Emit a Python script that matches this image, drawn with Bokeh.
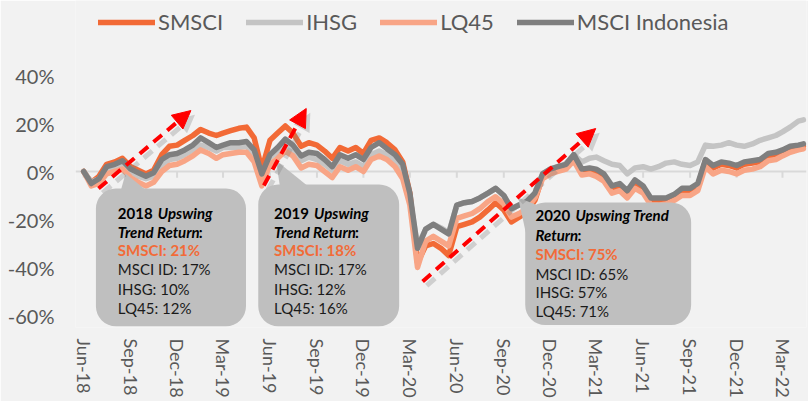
import datetime as dt
import pandas as pd
from bokeh.plotting import figure
from bokeh.models import (Range1d, FixedTicker, DatetimeTickFormatter, PrintfTickFormatter,
                          Legend, LegendItem, Span, BoxAnnotation, Label, Arrow, NormalHead)
from bokeh.embed import file_html
from bokeh.resources import INLINE

# ---------------- data (cumulative return, %) ----------------
dates = []
for yr in range(2018, 2023):
    for mo in range(1, 13):
        for d in (1, 16):
            t = dt.datetime(yr, mo, d)
            if dt.datetime(2018, 6, 1) <= t <= dt.datetime(2022, 4, 1):
                dates.append(t)
dates.append(dt.datetime(2022, 4, 11))

smsci = [0, -4.5, -2, 3, 4, 5.5, 2, 0.5, -1, 0.5, 7, 10.5, 11, 13, 15, 17.5, 16, 15, 16, 17,
         18, 18.5, 14, 1, 13, 16, 19, 16, 10.5, 12, 11, 8.5, 5.5, 10, 8.5, 10, 7.5, 13, 14, 12,
         9, 4, -9, -38, -31, -30, -32, -35, -23, -22, -21, -19, -16, -13, -16, -21, -19, -17, -12, -2,
         0, 1, 2, 6, 0, 0.5, 0, -2, -7.5, -6.5, -10, -5, -7.5, -12.5, -12.5, -12, -10.5, -8, -8, -6,
         4.5, 1.5, 3, 2.5, 1.5, 3, 3.5, 4, 6.5, 7, 8, 9.5, 10, 10.5]
ihsg = [0, -4.5, -3, 1, 2, 3, 0, -2, -3, -2, 2.5, 5, 5.5, 7, 9, 11, 10, 8.5, 10, 10,
        10, 10.5, 7, -2.5, 6, 8, 11, 9, 4.5, 6, 5, 3, 0.5, 4.5, 3, 4, 2, 7, 8.5, 7,
        4, 0, -11, -31, -24, -22, -23.5, -25.5, -14, -13, -12.5, -11, -9, -7, -10, -15.5, -14, -12.5, -9, -1,
        1, 2, 3, 7, 4, 5.5, 6, 4.5, 3, 2.5, -1, 1.5, 2, 1, 2, 3.5, 4, 3, 2.5, 4,
        11, 10.5, 11, 12, 11, 10.5, 11.5, 13, 14, 15, 16.5, 18.5, 21, 21.5]
lq45 = [0, -6, -5, -1, 0, 1, -2.5, -4.5, -6, -4.5, 0, 2.5, 3, 4.5, 6.5, 9, 7.5, 5.5, 7, 7.5,
        8, 8, 4, -6, 3, 5.5, 8.5, 6.5, 1.5, 3, 2.5, 0, -2.5, 2, 0.5, 2, 0, 5, 6.5, 5,
        2, -3, -14, -40, -29, -27, -29, -31, -19.5, -18.5, -17.5, -15.5, -12.5, -10.5, -13.5, -19, -17.5, -15.5, -11, -3,
        -1, 0, 1, 4.5, -1.5, -1, -2, -4, -9, -8, -11, -7, -9, -14, -14, -13.5, -12, -10, -10, -8,
        2, -1, 0.5, 0, -1, 0.5, 1, 2, 4.5, 5, 6.5, 8, 9, 9.5]
msci_id = [0, -5, -3, 2, 3, 4.5, 1, -0.5, -2, -0.5, 5, 7, 7.5, 9, 11, 14, 12, 10, 11, 12,
           12, 12.5, 9, -1, 7, 10, 13.5, 11, 6.5, 8, 7.5, 5, 2, 7, 5.5, 7, 5, 10, 12, 9.5,
           7, 3, -9, -32, -24, -22, -24, -26, -14, -13, -12.5, -11, -9, -7, -10, -15.5, -14, -12.5, -9, -1,
           1, 2, 3, 7, 1, 1.5, 1, -1, -6, -5, -8, -3.5, -6, -11, -11, -11, -9.5, -7, -7, -5,
           5, 2.5, 4, 3.5, 2.5, 4, 4.5, 5, 7.5, 8, 9, 10.5, 11, 11.5]

series_names = ["SMSCI", "IHSG", "LQ45", "MSCI Indonesia"]
series_values = [smsci, ihsg, lq45, msci_id]
series_colors = ["#F26A36", "#C4C4C4", "#F8A586", "#7F7F7F"]

tick_months = [(2018, 6), (2018, 9), (2018, 12), (2019, 3), (2019, 6), (2019, 9), (2019, 12),
               (2020, 3), (2020, 6), (2020, 9), (2020, 12), (2021, 3), (2021, 6), (2021, 9),
               (2021, 12), (2022, 3)]
y_ticks = [-60, -40, -20, 0, 20, 40]

callouts = [
    {"year": "2018 ", "head": "Upswing", "line2": "Trend Return", "smsci": "SMSCI: 21%",
     "rest": ["MSCI ID: 17%", "IHSG: 10%", "LQ45: 12%"]},
    {"year": "2019 ", "head": "Upswing", "line2": "Trend Return", "smsci": "SMSCI: 18%",
     "rest": ["MSCI ID: 17%", "IHSG: 12%", "LQ45: 16%"]},
    {"year": "2020 ", "head": "Upswing Trend", "line2": "Return", "smsci": "SMSCI: 75%",
     "rest": ["MSCI ID: 65%", "IHSG: 57%", "LQ45: 71%"]},
]


def ms(y, m, d):
    return pd.Timestamp(dt.datetime(y, m, d)).value / 1e6


BG = "#F2F2F2"
p = figure(width=808, height=401, x_axis_type="datetime", output_backend="svg",
           toolbar_location=None, background_fill_color=BG, border_fill_color=BG,
           outline_line_color=None, min_border_left=75, min_border_right=2,
           min_border_top=0, min_border_bottom=74)
p.x_range = Range1d(ms(2018, 5, 16), ms(2022, 4, 17))
p.y_range = Range1d(-65, 71.25)
p.grid.visible = False

# zero line with tick marks
tick_ms = [ms(y, m, 1) for (y, m) in tick_months]
p.add_layout(Span(location=0, dimension="width", line_color="#D9D9D9", line_width=2, level="underlay"))
p.segment(x0=tick_ms, y0=[0] * len(tick_ms), x1=tick_ms, y1=[-2.6] * len(tick_ms),
          line_color="#D9D9D9", line_width=2, level="underlay")

# data lines
xs = [pd.Timestamp(d) for d in dates]
renderers = []
for name, vals, col in zip(series_names, series_values, series_colors):
    r = p.line(xs, vals, line_color=col, line_width=5.5, line_join="round", line_cap="round")
    renderers.append(r)

legend = Legend(items=[LegendItem(label=n, renderers=[r]) for n, r in zip(series_names, renderers)],
                orientation="horizontal", location=(23, 292),
                label_text_font="Lato", label_text_font_size="22px", label_text_color="#595959",
                glyph_width=57, glyph_height=22, label_height=24, label_standoff=3, spacing=23,
                padding=6, margin=0, border_line_color=None, background_fill_alpha=0)
p.add_layout(legend)

# axes
p.xaxis.ticker = FixedTicker(ticks=tick_ms)
fmt = "%b-%y"
p.xaxis.formatter = DatetimeTickFormatter(days=fmt, months=fmt, years=fmt, hours=fmt,
                                          minutes=fmt, seconds=fmt, milliseconds=fmt,
                                          microseconds=fmt, minsec=fmt, hourmin=fmt)
p.xaxis.major_label_orientation = "vertical"
p.xaxis.major_label_text_font = "Lato"
p.xaxis.major_label_text_font_size = "18px"
p.xaxis.major_label_text_color = "#595959"
p.xaxis.major_label_standoff = 5
p.xaxis.axis_line_color = None
p.xaxis.major_tick_line_color = None
p.xaxis.minor_tick_line_color = None

p.yaxis.ticker = FixedTicker(ticks=y_ticks)
p.yaxis.formatter = PrintfTickFormatter(format="%d%%")
p.yaxis.major_label_text_font = "Lato"
p.yaxis.major_label_text_font_size = "20px"
p.yaxis.major_label_text_color = "#595959"
p.yaxis.major_label_standoff = 15
p.yaxis.axis_line_color = None
p.yaxis.major_tick_line_color = None
p.yaxis.minor_tick_line_color = None

# arrows (shadow + arrow)
arrows = [((2018, 6, 30), -7.1, (2018, 12, 28), 25.4),
          ((2019, 5, 20), -5.8, (2019, 8, 11), 26.25),
          ((2020, 3, 26), -45.8, (2021, 2, 28), 17.9)]
for (s, ys, e, ye) in arrows:
    xs0, xe0 = ms(*s), ms(*e)
    off = 8 * 86400000
    p.add_layout(Arrow(x_start=xs0 + off, y_start=ys - 1.8, x_end=xe0 + off, y_end=ye - 1.8,
                       line_color="#7F7F7F", line_alpha=0.3, line_width=5, line_dash="11 7",
                       end=NormalHead(size=18, fill_color="#7F7F7F", fill_alpha=0.3,
                                      line_color=None)))
for (s, ys, e, ye) in arrows:
    p.add_layout(Arrow(x_start=ms(*s), y_start=ys, x_end=ms(*e), y_end=ye,
                       line_color="#FF0000", line_width=4, line_dash="11 7",
                       end=NormalHead(size=18, fill_color="#FF0000", line_color="#FF0000")))

# callout tails and boxes
BOX = "#BFBFBF"
tails_x = [[ms(2018, 8, 22), ms(2018, 8, 10), ms(2018, 10, 14)],
           [ms(2019, 6, 13), ms(2019, 6, 23), ms(2019, 9, 6)],
           [ms(2020, 9, 29), ms(2020, 10, 14), ms(2020, 12, 1)]]
tails_y = [[-0.8, -10, -10], [4.6, -10, -10], [-10.8, -25.4, -16.3]]
p.patches(tails_x, tails_y, fill_color=BOX, line_color=None)

boxes = [((2018, 6, 25), (2019, 4, 15), -7.1, -64.5),
         ((2019, 5, 9), (2020, 2, 9), -5.4, -64.5),
         ((2020, 10, 13), (2021, 9, 3), -12.9, -64)]
for (l, r, t, b) in boxes:
    p.add_layout(BoxAnnotation(left=ms(*l), right=ms(*r), top=t, bottom=b, fill_color=BOX,
                               fill_alpha=1, line_color=None, border_radius=20))

text_x = [ms(2018, 8, 7), ms(2019, 6, 9), ms(2020, 11, 2)]
text_y = [[-17.1, -25, -32.8, -40.8, -48.8, -56.7],
          [-17.1, -25, -32.8, -40.8, -48.8, -56.7],
          [-18.3, -26.3, -34.2, -42.5, -50.4, -58.3]]
colon_off = [81, 81, 42]
common = dict(text_font="Lato", text_font_size="15px", text_baseline="middle")
for c, tx, ty, co in zip(callouts, text_x, text_y, colon_off):
    p.add_layout(Label(x=tx, y=ty[0], text=c["year"], text_font_style="bold",
                       text_color="#000000", **common))
    p.add_layout(Label(x=tx, y=ty[0], x_offset=40, text=c["head"], text_font_style="bold italic",
                       text_color="#000000", **common))
    p.add_layout(Label(x=tx, y=ty[1], text=c["line2"], text_font_style="bold italic",
                       text_color="#000000", **common))
    p.add_layout(Label(x=tx, y=ty[1], x_offset=co, text=":", text_font_style="bold",
                       text_color="#000000", **common))
    p.add_layout(Label(x=tx, y=ty[2], text=c["smsci"], text_font_style="bold",
                       text_color="#F26B38", **common))
    for k, line in enumerate(c["rest"]):
        p.add_layout(Label(x=tx, y=ty[3 + k], text=line, text_font_style="normal",
                           text_color="#1A1A1A", **common))

open("out.html", "w").write(file_html(p, INLINE))
